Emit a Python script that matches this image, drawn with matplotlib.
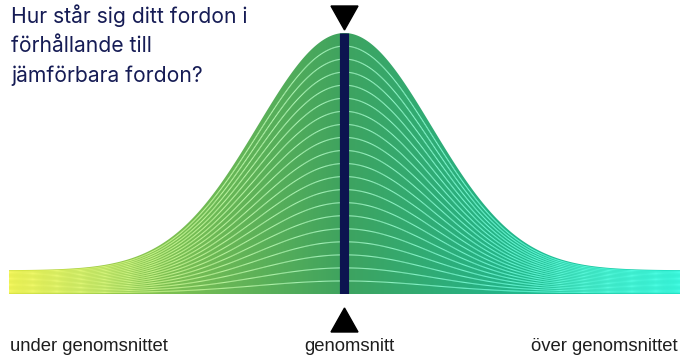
import numpy as np
import matplotlib.pyplot as plt
from matplotlib.colors import LinearSegmentedColormap
from matplotlib.collections import LineCollection
from matplotlib.patches import Polygon

# bell curve parameters (in standard deviations)
x_range = (-3.85, 3.85)
curve_mean = 0.0
curve_sd = 1.0
curve_base = 0.1      # flat part under the tails
n_stripes = 20

title_lines = ["Hur står sig ditt fordon i", "förhållande till", "jämförbara fordon?"]
axis_labels = ["under genomsnittet", "genomsnitt", "över genomsnittet"]

# fill gradient and the lighter gradient used for the stripes
grad_pos = [0.0, 0.2, 0.5, 0.72, 1.0]
grad_colors = ["#cfdd36", "#86c450", "#3ea35f", "#26b285", "#14d8b8"]
stripe_colors = ["#f8fa64", "#caf488", "#a4f4c2", "#6cf6d2", "#48ffe6"]

navy = "#0c1450"

W, H = 685, 357
fig = plt.figure(figsize=(W / 100, H / 100), dpi=100)
# axes box in pixels: left 9, bottom of curve at 294, peak at 33
ax = fig.add_axes([9 / W, (H - 294) / H, 671 / W, 261 / H])
ax.set_xlim(*x_range)
ax.set_ylim(0, curve_base + 1)
ax.axis("off")

x = np.linspace(x_range[0], x_range[1], 700)
y = curve_base + np.exp(-0.5 * ((x - curve_mean) / curve_sd) ** 2)

# gradient fill clipped to the curve
cmap = LinearSegmentedColormap.from_list("bell", list(zip(grad_pos, grad_colors)))
cmap_light = LinearSegmentedColormap.from_list("stripe", list(zip(grad_pos, stripe_colors)))
grad = np.linspace(0, 1, 512).reshape(1, -1)
img = ax.imshow(grad, cmap=cmap, aspect="auto",
                extent=[x_range[0], x_range[1], 0, curve_base + 1], zorder=1)
poly = Polygon(np.column_stack([np.r_[x, x[::-1]], np.r_[y, np.zeros_like(y)]]),
               closed=True, facecolor="none", edgecolor="none")
ax.add_patch(poly)
img.set_clip_path(poly)

# light stripes, scaled copies of the curve, coloured along x
xm = (x[:-1] + x[1:]) / 2
seg_col = cmap_light((xm - x_range[0]) / (x_range[1] - x_range[0]))
for k in range(1, n_stripes):
    yk = y * k / n_stripes
    pts = np.column_stack([x, yk]).reshape(-1, 1, 2)
    segs = np.concatenate([pts[:-1], pts[1:]], axis=1)
    lc = LineCollection(segs, colors=seg_col, linewidths=0.8, zorder=2)
    ax.add_collection(lc)

# average marker bar
ymax = curve_base + 1
ax.plot([curve_mean, curve_mean], [0, ymax], color=navy, lw=6.6,
        solid_capstyle="butt", zorder=3)

# triangles above and below
px_x = (x_range[1] - x_range[0]) / 671
px_y = ymax / 261
tw = 13.5 * px_x
top = Polygon([[curve_mean - tw, ymax + 27 * px_y], [curve_mean + tw, ymax + 27 * px_y],
               [curve_mean, ymax + 3 * px_y]], closed=True, color="black", clip_on=False)
bot = Polygon([[curve_mean - tw, -38 * px_y], [curve_mean + tw, -38 * px_y],
               [curve_mean, -14 * px_y]], closed=True, color="black", clip_on=False)
ax.add_patch(top)
ax.add_patch(bot)

# title
for i, line in enumerate(title_lines):
    fig.text(11 / W, 1 - (23 + 29.5 * i) / H, line, fontsize=15.2, family="Inter",
             color="#161c55", va="baseline", ha="left")

# bottom labels
lab_y = 1 - 351 / H
fig.text(10 / W, lab_y, axis_labels[0], fontsize=13.3, family="Liberation Sans",
         color="#1e1e1e", va="baseline", ha="left")
fig.text(349 / W, lab_y, axis_labels[1], fontsize=13.3, family="Liberation Sans",
         color="#1e1e1e", va="baseline", ha="center")
fig.text(678 / W, lab_y, axis_labels[2], fontsize=13.3, family="Liberation Sans",
         color="#1e1e1e", va="baseline", ha="right")

fig.savefig("out.png", dpi=100)
